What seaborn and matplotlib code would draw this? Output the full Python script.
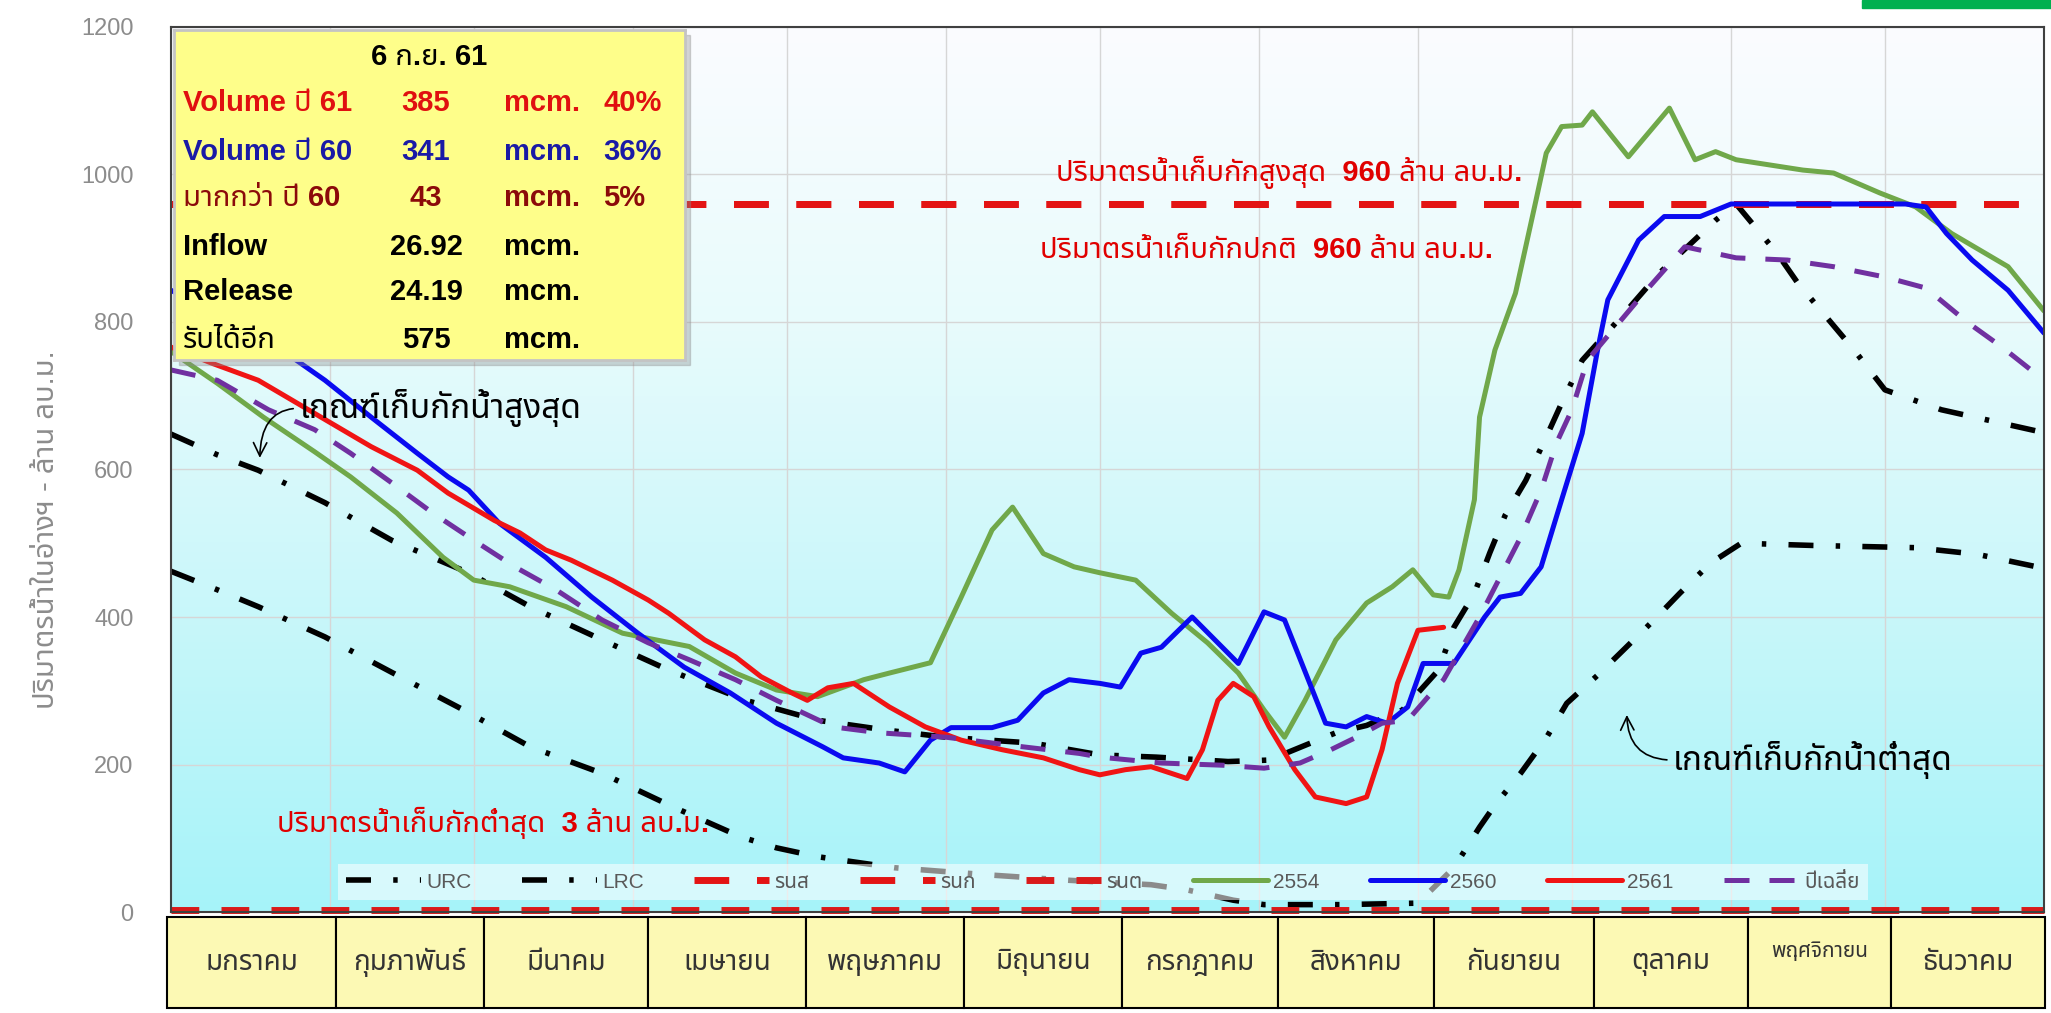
import numpy as np
import matplotlib
matplotlib.use("Agg")
import matplotlib.pyplot as plt
import seaborn as sns
from matplotlib import font_manager as fm
from matplotlib.ft2font import FT2Font
from matplotlib.colors import LinearSegmentedColormap
from matplotlib.patches import Rectangle

# ---- ข้อมูล (วันในปี, ล้าน ลบ.ม.) ----
month_names = ['มกราคม', 'กุมภาพันธ์', 'มีนาคม', 'เมษายน', 'พฤษภาคม', 'มิถุนายน',
               'กรกฎาคม', 'สิงหาคม', 'กันยายน', 'ตุลาคม', 'พฤศจิกายน', 'ธันวาคม']
month_start = [0, 31, 59, 90, 120, 151, 181, 212, 243, 273, 304, 334, 365]
year_span = [0, 365]

max_storage = 960
normal_storage = 960
min_storage = 3

urc_day = [0, 9, 17, 30, 43, 58, 70, 84, 97, 112, 126, 139, 151, 168, 181, 192, 206, 214, 221, 227,
           233, 240, 247, 250, 254, 257, 260, 264, 268, 271, 275, 283, 290, 301, 305, 313, 317, 328,
           334, 345, 365]
urc_val = [648, 620, 599, 555, 504, 460, 414, 369, 328, 287, 260, 247, 237, 229, 213, 210, 204, 206, 226, 243,
           253, 274, 328, 386, 432, 487, 538, 585, 644, 690, 748, 810, 866, 938, 960, 893, 853, 762,
           708, 681, 650]

lrc_day = [0, 9, 17, 30, 43, 57, 70, 84, 98, 111, 118, 126, 141, 160, 175, 191, 198, 207, 213, 228,
           243, 250, 255, 258, 263, 268, 272, 278, 283, 289, 294, 300, 306, 320, 340, 352, 365]
lrc_val = [462, 437, 414, 373, 325, 274, 224, 188, 142, 102, 87, 75, 60, 50, 43, 37, 30, 16, 10, 10,
           12, 60, 115, 145, 188, 236, 283, 321, 355, 396, 432, 473, 500, 497, 494, 485, 466]

y2554_day = [0, 9, 18, 28, 35, 44, 53, 59, 66, 77, 88, 101, 110, 118, 126, 135, 140, 148, 154, 160,
             164, 170, 176, 181, 188, 195, 202, 208, 213, 217, 221, 227, 233, 238, 242, 246, 249, 251,
             254, 255, 258, 262, 266, 268, 271, 275, 277, 284, 292, 297, 301, 305, 318, 324, 333, 340,
             347, 358, 365]
y2554_val = [760, 717, 671, 624, 590, 541, 481, 450, 441, 414, 378, 360, 324, 301, 292, 315, 324, 338, 427, 518,
             549, 486, 468, 460, 450, 405, 365, 324, 274, 237, 287, 369, 419, 441, 464, 430, 427, 464,
             559, 671, 762, 839, 965, 1029, 1065, 1067, 1085, 1024, 1090, 1020, 1031, 1020, 1006, 1002, 975, 956,
             920, 875, 815]

y2560_day = [0, 12, 22, 30, 39, 48, 54, 58, 64, 73, 82, 91, 100, 109, 118, 127, 131, 138, 143, 148,
             152, 160, 165, 170, 175, 181, 185, 189, 193, 199, 208, 213, 217, 225, 229, 233, 237, 241,
             244, 250, 256, 259, 263, 267, 271, 275, 278, 280, 286, 291, 298, 304, 312, 338, 342, 346,
             351, 358, 365]
y2560_val = [843, 800, 760, 721, 671, 622, 590, 572, 527, 481, 427, 378, 332, 297, 256, 224, 209, 202, 190, 233,
             250, 250, 260, 297, 315, 310, 305, 351, 359, 400, 337, 407, 396, 256, 251, 265, 256, 278,
             337, 337, 400, 427, 432, 468, 559, 649, 762, 830, 911, 943, 943, 960, 960, 960, 956, 920,
             884, 843, 785]

y2561_day = [0, 8, 17, 28, 39, 48, 54, 63, 68, 73, 78, 86, 93, 97, 104, 110, 115, 121, 124, 128,
             133, 140, 147, 154, 162, 170, 177, 181, 186, 191, 198, 201, 204, 207, 211, 214, 219, 223,
             229, 233, 236, 239, 243, 248]
y2561_val = [766, 744, 721, 676, 631, 599, 568, 531, 514, 491, 477, 450, 423, 405, 369, 346, 319, 297, 287, 304,
             310, 278, 251, 233, 220, 209, 193, 186, 193, 197, 181, 220, 287, 310, 292, 251, 193, 156,
             147, 156, 220, 310, 382, 386]

avg_day = [0, 9, 19, 28, 35, 43, 51, 59, 67, 75, 84, 93, 101, 110, 118, 129, 138, 151, 166, 177,
           181, 193, 205, 213, 220, 226, 231, 236, 241, 245, 248, 255, 259, 263, 267, 270, 273, 276,
           287, 295, 305, 315, 324, 334, 342, 350, 357, 363, 365]
avg_val = [735, 721, 681, 654, 622, 582, 541, 504, 468, 437, 396, 365, 342, 315, 287, 251, 243, 237, 224, 215,
           210, 202, 199, 195, 202, 220, 237, 256, 260, 292, 315, 400, 454, 508, 572, 636, 681, 748,
           839, 902, 887, 884, 875, 861, 846, 800, 765, 732, 722]

info_date = '6 ก.ย. 61'
info_labels = ['Volume ปี 61', 'Volume ปี 60', 'มากกว่า ปี 60', 'Inflow', 'Release', 'รับได้อีก']
info_values = ['385', '341', '43', '26.92', '24.19', '575']
info_units = ['mcm.', 'mcm.', 'mcm.', 'mcm.', 'mcm.', 'mcm.']
info_pct = ['40%', '36%', '5%', '', '', '']
info_colors = ['#e01010', '#1a1aa6', '#8b0a0a', 'black', 'black', 'black']


def find_font(ch, prefer):
    found = []
    for f in fm.fontManager.ttflist:
        try:
            if ord(ch) in FT2Font(f.fname).get_charmap():
                found.append(f.name)
        except Exception:
            continue
    for p in prefer:
        if p in found:
            return p
    return found[0] if found else 'DejaVu Sans'


thai = find_font('ก', ['Noto Sans Thai', 'Noto Sans Thai Looped', 'Loma', 'Garuda', 'Noto Serif Thai'])
names = {f.name for f in fm.fontManager.ttflist}
narrow = 'Liberation Sans Narrow' if 'Liberation Sans Narrow' in names else 'Liberation Sans'

sns.set_style('white')
plt.rcParams['font.family'] = [narrow, thai, 'DejaVu Sans']

W, H = 2051, 1013


def fr(x0, y0, x1, y1):
    # pixel box -> figure fraction
    return [x0 / W, 1 - y1 / H, (x1 - x0) / W, (y1 - y0) / H]


fig = plt.figure(figsize=(W / 100, H / 100), dpi=100)
fig.patches.append(Rectangle((1862 / W, 1 - 8 / H), (W - 1862) / W, 8 / H,
                             transform=fig.transFigure, color='#00b050'))

ax = fig.add_axes(fr(171, 27, 2044, 912))

# พื้นหลังไล่สี
grad = np.linspace(0, 1, 256).reshape(-1, 1)
bg = LinearSegmentedColormap.from_list('bg', ['#a6f3f9', '#c8f7fa', '#e8fbfc', '#fbfbff'])
ax.imshow(grad, extent=[0, 365, 0, 1200], origin='lower', aspect='auto', cmap=bg, zorder=0)

dashdot = (0, (4.5, 4, 0.8, 4))
sns.lineplot(x=urc_day, y=urc_val, ax=ax, color='black', lw=4, linestyle=dashdot, label='URC')
sns.lineplot(x=lrc_day, y=lrc_val, ax=ax, color='black', lw=4, linestyle=dashdot, label='LRC')
sns.lineplot(x=year_span, y=[max_storage] * 2, ax=ax, color='#e31414', lw=5, linestyle=(0, (5, 4)), label='รนส')
sns.lineplot(x=year_span, y=[normal_storage] * 2, ax=ax, color='#e31414', lw=5, linestyle=(0, (5, 4)), label='รนก')
sns.lineplot(x=year_span, y=[min_storage] * 2, ax=ax, color='#d91a1a', lw=5, linestyle=(0, (4, 3.2)),
             label='รนต', clip_on=False)
sns.lineplot(x=y2554_day, y=y2554_val, ax=ax, color='#70a84a', lw=3.6, label='2554')
sns.lineplot(x=y2560_day, y=y2560_val, ax=ax, color='#0a0af0', lw=3.6, label='2560')
sns.lineplot(x=y2561_day, y=y2561_val, ax=ax, color='#f01414', lw=3.6, label='2561')
sns.lineplot(x=avg_day, y=avg_val, ax=ax, color='#7030a0', lw=3.6, linestyle=(0, (5, 4)), label='ปีเฉลี่ย')

ax.set_xlim(0, 365)
ax.set_ylim(0, 1200)
ax.set_xticks(month_start)
ax.set_xticklabels([])
ax.set_yticks(range(0, 1201, 200))
ax.tick_params(axis='both', length=0)
ax.tick_params(axis='y', pad=27, labelsize=17, labelcolor='#8c8c8c')
ax.grid(True, color='#d6d6d6', lw=1)
ax.set_xlabel('')
ax.set_ylabel('')
for s in ax.spines.values():
    s.set_color('#404040')
    s.set_linewidth(1.5)

handles, labels = ax.get_legend_handles_labels()
leg = ax.legend(handles, labels, ncol=9, loc='lower left', mode='expand',
                bbox_to_anchor=(0.089, 0.0136, 0.817, 0.06), borderaxespad=0,
                fancybox=False, framealpha=0.55, facecolor='white', edgecolor='none',
                handlelength=3.6, handletextpad=0.25, columnspacing=1.0,
                prop=fm.FontProperties(family=[narrow, thai], size=15))
for t in leg.get_texts():
    t.set_color('#595959')

# ข้อความบนกราฟ
red_txt = dict(color='#e00000', fontsize=21, fontweight='bold', ha='center', va='center', zorder=6)
ax.text(218, 1003, 'ปริมาตรน้ำเก็บกักสูงสุด  960 ล้าน ลบ.ม.', **red_txt)
ax.text(213.5, 898, 'ปริมาตรน้ำเก็บกักปกติ  960 ล้าน ลบ.ม.', **red_txt)
ax.text(62.7, 121, 'ปริมาตรน้ำเก็บกักต่ำสุด  3 ล้าน ลบ.ม.', **red_txt)

arrow = dict(arrowstyle='->', color='black', lw=1.2, relpos=(0, 0.5),
             connectionstyle='angle3,angleA=0,angleB=90')
ax.annotate('เกณฑ์เก็บกักน้ำสูงสุด', xy=(17.3, 612), xytext=(25, 683), ha='left', va='center',
            fontsize=24, color='black', arrowprops=arrow, zorder=6)
ax.annotate('เกณฑ์เก็บกักน้ำต่ำสุด', xy=(283.7, 271), xytext=(292.7, 206), ha='left', va='center',
            fontsize=24, color='black', arrowprops=arrow, zorder=6)

fig.text(46 / W, 1 - 530 / H, 'ปริมาตรน้ำในอ่างฯ - ล้าน ลบ.ม.', rotation=90, color='#8c8c8c',
         fontsize=21, ha='center', va='center')

# กล่องข้อมูล (มีเงาด้านขวาล่าง)
shadow = Rectangle((179 / W, 1 - 365 / H), 511 / W, 330 / H, transform=fig.transFigure,
                   color='#8a8a8a', alpha=0.35, zorder=0.5)
fig.patches.append(shadow)
bax = fig.add_axes(fr(174, 30, 685, 360))
bax.set_zorder(1)
bax.set_xlim(174, 685)
bax.set_ylim(360, 30)
bax.set_facecolor('#fefe8a')
bax.set_xticks([])
bax.set_yticks([])
for s in bax.spines.values():
    s.set_color('#c4c4c4')
    s.set_linewidth(2)
box_font = dict(fontsize=21, fontweight='bold', va='center')
bax.text(429, 57, info_date, ha='center', color='black', **box_font)
row_y = [103, 152, 198, 247, 292, 340]
for yy, lab, val, unit, pct, col in zip(row_y, info_labels, info_values, info_units, info_pct, info_colors):
    bax.text(183, yy, lab, ha='left', color=col, **box_font)
    bax.text(426, yy, val, ha='center', color=col, **box_font)
    bax.text(504, yy, unit, ha='left', color=col, **box_font)
    bax.text(603, yy, pct, ha='left', color=col, **box_font)

# ตารางชื่อเดือน
edges = [167, 336, 484, 648, 806, 964, 1122, 1278, 1434, 1594, 1748, 1891, 2045]
tax = fig.add_axes(fr(167, 917, 2045, 1008))
tax.set_xlim(edges[0], edges[-1])
tax.set_ylim(0, 1)
tax.axis('off')
for i, name in enumerate(month_names):
    tax.add_patch(Rectangle((edges[i], 0), edges[i + 1] - edges[i], 1, facecolor='#fcf9b4',
                            edgecolor='black', lw=1.5, clip_on=False))
    fs = 15 if name == 'พฤศจิกายน' else 20
    yy = 0.62 if name == 'พฤศจิกายน' else 0.5
    tax.text((edges[i] + edges[i + 1]) / 2, yy, name, ha='center', va='center', fontsize=fs, color='#333333')

fig.savefig('out.png', dpi=100)
